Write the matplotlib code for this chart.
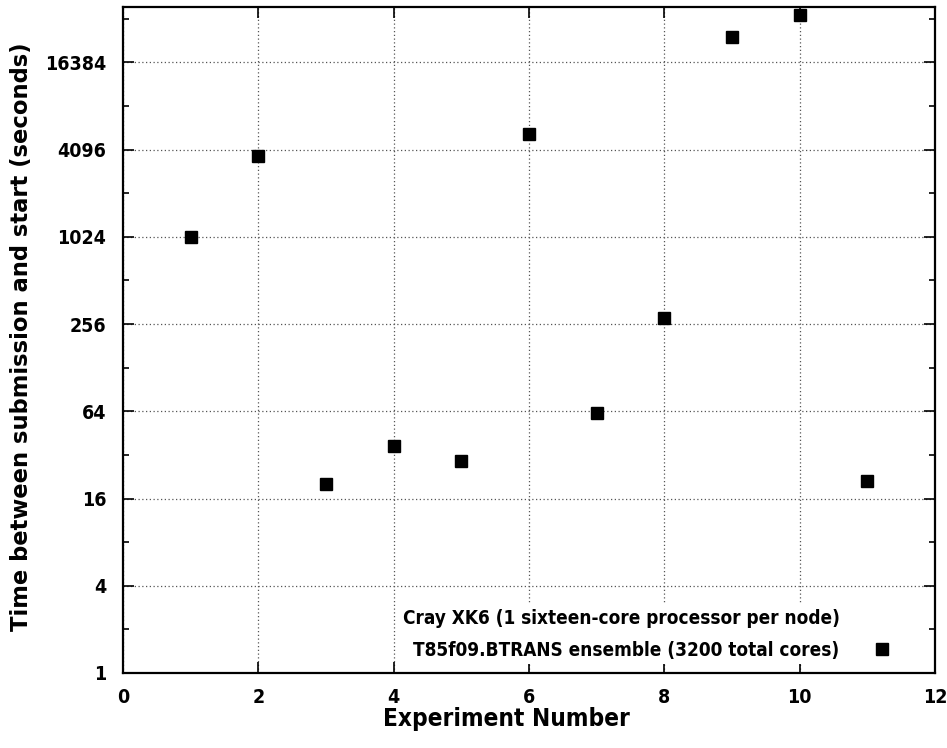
import matplotlib
matplotlib.use("Agg")
import matplotlib.pyplot as plt
from matplotlib.lines import Line2D
from matplotlib.ticker import FixedLocator, FixedFormatter, NullFormatter

# ---- data ----
experiments = [1, 2, 3, 4, 5, 6, 7, 8, 9, 10, 11]
wait_seconds = [1024, 3680, 20.1, 36.6, 29.1, 5250, 62.4, 282, 24600, 35000, 21.2]

y_tick_values = [1, 4, 16, 64, 256, 1024, 4096, 16384]
y_tick_labels = ["1", "4", "16", "64", "256", "1024", "4096", "16384"]
y_minor_values = [2, 8, 32, 128, 512, 2048, 8192, 32768]
x_tick_values = [0, 2, 4, 6, 8, 10, 12]

legend_title = "Cray XK6 (1 sixteen-core processor per node)"
series_label = "T85f09.BTRANS ensemble (3200 total cores)"
x_label = "Experiment Number"
y_label = "Time between submission and start (seconds)"

narrow = ["DejaVu Sans"]
wide = ["DejaVu Sans"]
NSTRETCH = "condensed"

fig = plt.figure(figsize=(9.47, 7.48), dpi=100)
ax = fig.add_axes([123 / 947, 75 / 748, (935 - 123) / 947, (673 - 7) / 748])

ax.plot(experiments, wait_seconds, linestyle="none", marker="s",
        markersize=8.3, color="black", label=series_label, zorder=5)

ax.set_yscale("log", base=2)
ax.set_ylim(1, 2 ** 15.27)
ax.set_xlim(0, 12)

ax.yaxis.set_major_locator(FixedLocator(y_tick_values))
ax.yaxis.set_major_formatter(FixedFormatter(y_tick_labels))
ax.yaxis.set_minor_locator(FixedLocator(y_minor_values))
ax.yaxis.set_minor_formatter(NullFormatter())
ax.xaxis.set_major_locator(FixedLocator(x_tick_values))
ax.xaxis.set_minor_locator(FixedLocator([]))

ax.tick_params(which="both", direction="in", top=True, right=True, width=1.2)
ax.tick_params(which="major", length=8)
ax.tick_params(axis="y", which="major", pad=12)
ax.tick_params(axis="x", which="major", pad=11)
ax.tick_params(which="minor", length=4)
for lab in ax.get_xticklabels() + ax.get_yticklabels():
    lab.set_family(narrow)
    lab.set_fontstretch(NSTRETCH)
    lab.set_fontweight("bold")
    lab.set_fontsize(14)

ax.grid(True, which="major", linestyle=(0, (1, 2)), color="#555555", linewidth=0.9)
for s in ax.spines.values():
    s.set_linewidth(1.6)
    s.set_zorder(10)

ax.set_xlabel(x_label, fontsize=17.5, fontweight="bold", family=narrow,
              fontstretch=NSTRETCH)
ax.xaxis.set_label_coords((506 - 123) / (935 - 123), -(719 - 673) / (673 - 7))
ax.xaxis.label.set_va("center")
ax.set_ylabel(y_label, fontsize=16.3, fontweight="bold", family=wide)
ax.yaxis.set_label_coords(-(123 - 22) / (935 - 123), (673 - 337) / (673 - 7))
ax.yaxis.label.set_va("center")

blank = Line2D([], [], linestyle="none", marker="none")
series_handle = ax.get_lines()[0]
leg = ax.legend([blank, series_handle], [legend_title, series_label],
                loc="lower right", bbox_to_anchor=((910 - 123) / 812, 9 / 666),
                markerfirst=False, frameon=True, framealpha=1.0,
                facecolor="white", edgecolor="none", fancybox=False,
                prop={"family": narrow, "weight": "bold", "size": 13.6,
                      "stretch": NSTRETCH},
                handlelength=2.5, handletextpad=1.0, labelspacing=0.7,
                borderpad=0.22, borderaxespad=0.0)
leg.set_zorder(4)

fig.savefig("out.png", dpi=100)
